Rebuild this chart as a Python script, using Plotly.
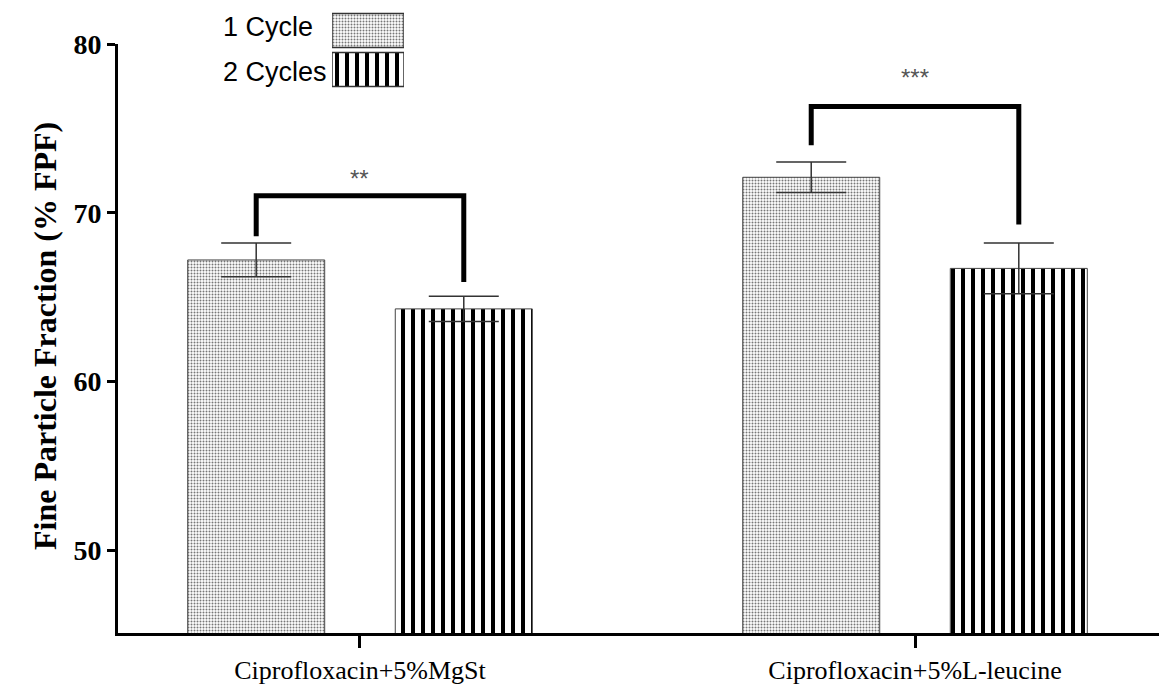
import plotly.graph_objects as go

# Formulations and fine particle fraction results
categories = ["Ciprofloxacin+5%MgSt", "Ciprofloxacin+5%L-leucine"]
series_names = ["1 Cycle", "2 Cycles"]
fpf_1_cycle = [67.2, 72.1]
fpf_2_cycles = [64.3, 66.7]
err_1_cycle = [1.0, 0.9]
err_2_cycles = [0.75, 1.5]

# Significance brackets: (left end, top, right end) heights and labels
bracket_left = [68.6, 74.0]
bracket_top = [71.0, 76.3]
bracket_right = [65.9, 69.3]
bracket_labels = ["**", "***"]
star_y = [72.05, 78.0]

y_ticks = [50, 60, 70, 80]

BARGAP = 0.252
GROUPGAP = 0.34
slot = (1 - BARGAP) / 2
offset = slot / 2

dots = dict(shape=".", size=3, solidity=0.35, fgcolor="#777777", fgopacity=1,
            bgcolor="white", fillmode="replace")
stripes = dict(shape="|", size=10, solidity=0.4, fgcolor="#000000", fgopacity=1,
               bgcolor="white", fillmode="replace")
err_style = dict(type="data", color="#333333", thickness=1.5, width=35)

fig = go.Figure()
fig.add_trace(go.Bar(
    x=categories, y=fpf_1_cycle, name=series_names[0],
    marker=dict(color="white", pattern=dots, line=dict(color="#444444", width=1)),
    error_y=dict(array=err_1_cycle, **err_style), showlegend=False))
fig.add_trace(go.Bar(
    x=categories, y=fpf_2_cycles, name=series_names[1],
    marker=dict(color="white", pattern=stripes, line=dict(color="#444444", width=1)),
    error_y=dict(array=err_2_cycles, **err_style), showlegend=False))

# Legend swatches drawn as bars on a small inset axis pair
fig.add_trace(go.Bar(x=[1], y=[1], orientation="h", width=0.87, xaxis="x2", yaxis="y2",
                     marker=dict(color="white", pattern=dots, line=dict(color="#333333", width=1.5)),
                     showlegend=False, hoverinfo="skip"))
fig.add_trace(go.Bar(x=[1], y=[0], orientation="h", width=0.87, xaxis="x2", yaxis="y2",
                     marker=dict(color="white", pattern=stripes, line=dict(color="#333333", width=1.5)),
                     showlegend=False, hoverinfo="skip"))

# Plot area spans the full height above the x axis; the main y axis uses the lower part
H_PLOT = 633.0
W_PLOT = 1041.0
L = 118.0
main_top = 44.0

shapes = []
annotations = []
for i in range(len(categories)):
    xl = i - offset
    xr = i + offset
    shapes.append(dict(
        type="path", xref="x", yref="y",
        path=f"M {xl},{bracket_left[i]} L {xl},{bracket_top[i]} L {xr},{bracket_top[i]} L {xr},{bracket_right[i]}",
        line=dict(color="black", width=5)))
    annotations.append(dict(
        x=i, y=star_y[i], xref="x", yref="y", text=bracket_labels[i], showarrow=False,
        font=dict(family="Liberation Sans", size=24, color="#555555")))

# Legend labels
for label, ypx in zip(series_names, [27, 72]):
    annotations.append(dict(
        x=(221 - L) / W_PLOT, y=(H_PLOT - ypx) / H_PLOT, xref="paper", yref="paper",
        xanchor="left", yanchor="middle", text=label, showarrow=False,
        font=dict(family="Liberation Sans", size=27, color="black")))

# Y axis title
annotations.append(dict(
    x=(45 - L) / W_PLOT, y=(H_PLOT - 336) / H_PLOT, xref="paper", yref="paper",
    text="<b>Fine Particle Fraction (% FPF)</b>", textangle=-90, showarrow=False,
    xanchor="center", yanchor="middle",
    font=dict(family="Liberation Serif", size=32, color="black")))

fig.update_layout(
    width=1159, height=690, showlegend=False,
    margin=dict(l=int(L), r=0, t=0, b=int(690 - H_PLOT), pad=0, autoexpand=False),
    paper_bgcolor="white", plot_bgcolor="white",
    barmode="group", bargap=BARGAP, bargroupgap=GROUPGAP,
    shapes=shapes, annotations=annotations,
    xaxis=dict(
        type="category", range=[-0.436, 1.4396], showline=True, linecolor="black", linewidth=3,
        ticks="outside", ticklen=12, tickwidth=3, tickcolor="black", showgrid=False, zeroline=False,
        automargin=False,
        tickfont=dict(family="Liberation Serif", size=26, color="black")),
    yaxis=dict(
        domain=[0, (H_PLOT - main_top) / H_PLOT], range=[45.09, 80], tickvals=y_ticks,
        ticktext=[f"<b>{v}</b>" for v in y_ticks], automargin=False,
        showline=True, linecolor="black", linewidth=3, ticks="outside", ticklen=8, tickwidth=3,
        tickcolor="black", showgrid=False, zeroline=False,
        tickfont=dict(family="Liberation Serif", size=28, color="black")),
    xaxis2=dict(domain=[(332 - L) / W_PLOT, (404 - L) / W_PLOT], range=[0, 1], anchor="y2",
                visible=False, fixedrange=True, automargin=False),
    yaxis2=dict(domain=[(H_PLOT - 89) / H_PLOT, (H_PLOT - 11) / H_PLOT], range=[-0.5, 1.5],
                anchor="x2", visible=False, fixedrange=True, automargin=False),
)

fig.write_html("out.html")
